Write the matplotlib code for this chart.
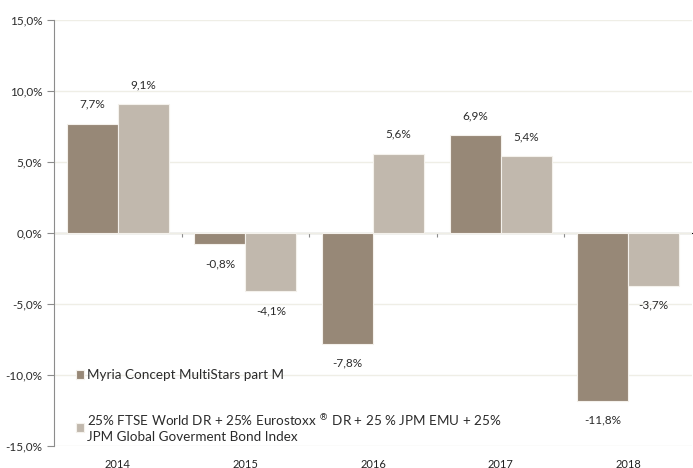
import numpy as np
import matplotlib.pyplot as plt

years = ['2014', '2015', '2016', '2017', '2018']
fund = [7.7, -0.8, -7.8, 6.9, -11.8]
bench = [9.1, -4.1, 5.6, 5.4, -3.7]
fund_name = 'Myria Concept MultiStars part M'
bench_name = ('25% FTSE World DR + 25% Eurostoxx $^{\\circledR}$ DR + 25 % JPM EMU + 25%\n'
              'JPM Global Goverment Bond Index')

plt.rcParams['font.family'] = ['Lato', 'DejaVu Sans']

fig = plt.figure(figsize=(6.93, 4.68), dpi=100)
ax = fig.add_axes([0.078, 0.047, 0.9205, 0.91])

x = np.arange(len(years))
w = 0.4
b1 = ax.bar(x - w / 2, fund, w, color='#978877', edgecolor='#f4f1ec', linewidth=0.8,
            label=fund_name, zorder=3)
b2 = ax.bar(x + w / 2, bench, w, color='#c1b8ad', edgecolor='#f4f1ec', linewidth=0.8,
            label=bench_name, zorder=3)


def fmt(v):
    return ('%.1f%%' % v).replace('.', ',')


for bars, vals in [(b1, fund), (b2, bench)]:
    for rect, v in zip(bars, vals):
        off = 14 if v >= 0 else -14
        ax.annotate(fmt(v), (rect.get_x() + rect.get_width() / 2, v),
                    xytext=(0, off), textcoords='offset points',
                    ha='center', va='center', fontsize=8.5, color='#2b2b2b')

ax.set_ylim(-15, 15)
ax.set_xlim(-0.5, len(years) - 0.5)
ax.set_yticks(np.arange(-15, 16, 5))
ax.set_yticklabels([fmt(t) for t in np.arange(-15, 16, 5)])
ax.yaxis.grid(True, color='#efeee6', linewidth=1, zorder=0)

for s in ['top', 'right', 'bottom']:
    ax.spines[s].set_visible(False)
ax.spines['left'].set_color('#8c8c8c')
ax.tick_params(axis='y', length=5, color='#8c8c8c', labelsize=8.5, labelcolor='#2b2b2b')

ax.set_xticks(x)
ax.set_xticklabels(years)
ax.tick_params(axis='x', length=0, labelsize=8, labelcolor='#222222', pad=9)

# category axis crossing at zero
sec = ax.secondary_xaxis(0.5)
sec.spines['bottom'].set_color('#8c8c8c')
sec.spines['bottom'].set_linewidth(1.5)
sec.set_xticks(np.arange(0.5, len(years) - 0.5, 1))
sec.set_xticklabels([])
sec.tick_params(axis='x', direction='in', length=3, color='#8c8c8c')

leg = ax.legend(loc='lower left', bbox_to_anchor=(0.034, 0.008), frameon=False,
                fontsize=9.7, labelspacing=2.3, handlelength=0.6, handleheight=0.6,
                handletextpad=0.25, borderpad=0, borderaxespad=0, labelcolor='#2b2b2b')

fig.savefig('out.png', dpi=100)
